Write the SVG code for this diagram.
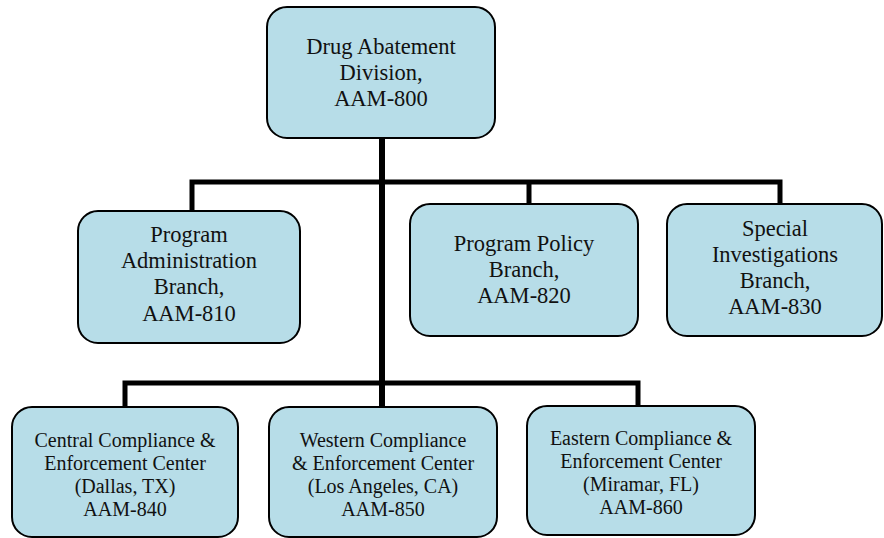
<svg xmlns="http://www.w3.org/2000/svg" width="884" height="538" viewBox="0 0 884 538">
<style>
.box{fill:#b7dde8;stroke:#000;stroke-width:2}
text{font-family:"Liberation Serif","Times New Roman",serif;fill:#111;text-anchor:middle}
.l{font-size:22.5px}
.s{font-size:20px}
.c{fill:none;stroke:#000;stroke-width:5;stroke-linejoin:miter}
</style>
<rect width="884" height="538" fill="#fff"/>
<g id="connectors">
<path class="c" d="M192,211 V182 H780 V204"/>
<path class="c" d="M529,182 V204"/>
<path class="c" style="stroke-width:6" d="M382,138 V407"/>
<path class="c" d="M125,407 V383 H638 V406"/>
</g>
<g id="n800">
<rect class="box" x="267" y="7" width="228" height="131" rx="20"/>
<text class="l" x="381" y="54">Drug Abatement</text>
<text class="l" x="381" y="80">Division,</text>
<text class="l" x="381" y="106">AAM-800</text>
</g>
<g id="n810">
<rect class="box" x="78" y="211" width="222" height="132" rx="20"/>
<text class="l" x="189" y="242">Program</text>
<text class="l" x="189" y="268">Administration</text>
<text class="l" x="189" y="294">Branch,</text>
<text class="l" x="189" y="321">AAM-810</text>
</g>
<g id="n820">
<rect class="box" x="410" y="204" width="228" height="132" rx="20"/>
<text class="l" x="524" y="251">Program Policy</text>
<text class="l" x="524" y="277">Branch,</text>
<text class="l" x="524" y="303">AAM-820</text>
</g>
<g id="n830">
<rect class="box" x="667" y="204" width="215" height="132" rx="20"/>
<text class="l" x="775" y="236">Special</text>
<text class="l" x="775" y="262">Investigations</text>
<text class="l" x="775" y="288">Branch,</text>
<text class="l" x="775" y="314">AAM-830</text>
</g>
<g id="n840">
<rect class="box" x="12" y="407" width="226" height="130" rx="20"/>
<text class="s" x="125" y="447">Central Compliance &amp;</text>
<text class="s" x="125" y="470">Enforcement Center</text>
<text class="s" x="125" y="493">(Dallas, TX)</text>
<text class="s" x="125" y="516">AAM-840</text>
</g>
<g id="n850">
<rect class="box" x="269" y="407" width="228" height="130" rx="20"/>
<text class="s" x="383" y="447">Western Compliance</text>
<text class="s" x="383" y="470">&amp; Enforcement Center</text>
<text class="s" x="383" y="493">(Los Angeles, CA)</text>
<text class="s" x="383" y="516">AAM-850</text>
</g>
<g id="n860">
<rect class="box" x="527" y="406" width="228" height="129" rx="20"/>
<text class="s" x="641" y="445">Eastern Compliance &amp;</text>
<text class="s" x="641" y="468">Enforcement Center</text>
<text class="s" x="641" y="491">(Miramar, FL)</text>
<text class="s" x="641" y="514">AAM-860</text>
</g>
</svg>
